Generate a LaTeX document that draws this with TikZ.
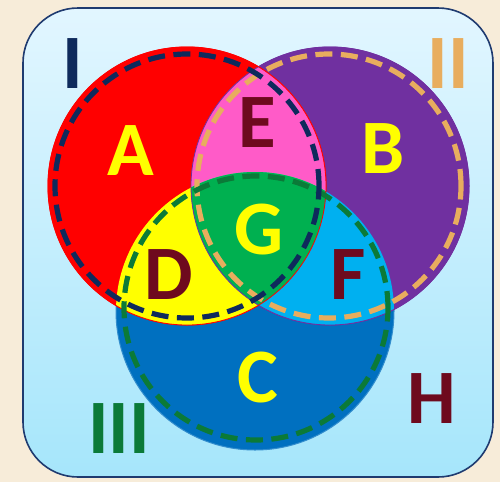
\documentclass[tikz,border=0pt]{standalone}
\usepackage{fontspec}
\setmainfont{Carlito}
\definecolor{parch}{HTML}{F7ECD9}
\definecolor{boxtop}{HTML}{E2F6FF}
\definecolor{boxbot}{HTML}{A6E6FB}
\definecolor{boxedge}{HTML}{1F3B70}
\definecolor{cred}{HTML}{FF0000}
\definecolor{cpurple}{HTML}{7030A0}
\definecolor{cblue}{HTML}{0070C0}
\definecolor{cpink}{HTML}{FF5BC8}
\definecolor{cyellow}{HTML}{FFFF00}
\definecolor{clblue}{HTML}{00B0F0}
\definecolor{cgreen}{HTML}{00B050}
\definecolor{dred}{HTML}{6E0A1E}
\definecolor{navy}{HTML}{0E2A5C}
\definecolor{tan}{HTML}{E8AD5E}
\definecolor{dgreen}{HTML}{0B7A38}
\tikzset{
  lbl/.style={anchor=base, inner sep=0pt, font=\bfseries\fontsize{77}{77}\selectfont},
  dashring/.style={line width=5.2pt, dash pattern=on 17pt off 8.5pt},
}
\begin{document}
\begin{tikzpicture}[x=1pt,y=-1pt]
\useasboundingbox (0,0) rectangle (500,482);
\fill[parch] (0,0) rectangle (500,482);
\path[draw=boxedge, line width=1.6pt, rounded corners=55pt, top color=boxtop, bottom color=boxbot] (23,8) rectangle (493,477);
\coordinate (cA) at (187,186);
\coordinate (cB) at (330,186);
\coordinate (cC) at (255,311);
\coordinate (dA) at (187,186);
\coordinate (dB) at (329,186);
\coordinate (dC) at (256,308);
% base circles
\filldraw[fill=cblue, draw=cblue!80!white, line width=1pt] (cC) circle (139pt);
\filldraw[fill=cpurple, draw=cpurple, line width=1pt] (cB) circle (139pt);
\filldraw[fill=cred, draw=cred, line width=1pt] (cA) circle (139pt);
% intersections
\begin{scope}\clip (cA) circle (139pt); \fill[cpink] (cB) circle (139pt); \end{scope}
\begin{scope}\clip (cA) circle (139pt); \fill[cyellow] (cC) circle (139pt); \end{scope}
\begin{scope}\clip (cB) circle (139pt); \fill[clblue] (cC) circle (139pt); \end{scope}
\begin{scope}\clip (cA) circle (139pt); \clip (cB) circle (139pt); \fill[cgreen] (cC) circle (139pt); \end{scope}
% thin outlines
\draw[cpurple, line width=0.8pt] (cB) circle (139pt);
\draw[cred, line width=0.8pt] (cA) circle (139pt);
% dashed rings
\draw[dashring, tan] (dB) circle (132pt);
\draw[dashring, dgreen] (dC) circle (132pt);
\draw[dashring, navy] (dA) circle (132pt);
% labels
\node[lbl, navy] (nI) at (73,88) {I};
\node[lbl, tan] (nII) at (448,88) {II};
\node[lbl, dgreen] (nIII) at (119,453) {III};
\node[lbl, cyellow] (nA) at (131,175) {A};
\node[lbl, cyellow] (nB) at (383,173) {B};
\node[lbl, cyellow] (nC) at (258,402) {C};
\node[lbl, dred] (nD) at (169,299) {D};
\node[lbl, dred] (nE) at (257,147) {E};
\node[lbl, dred] (nF) at (348,299) {F};
\node[lbl, cyellow] (nG) at (259,254) {G};
\node[lbl, dred] (nH) at (432,423) {H};
\end{tikzpicture}
\end{document}
